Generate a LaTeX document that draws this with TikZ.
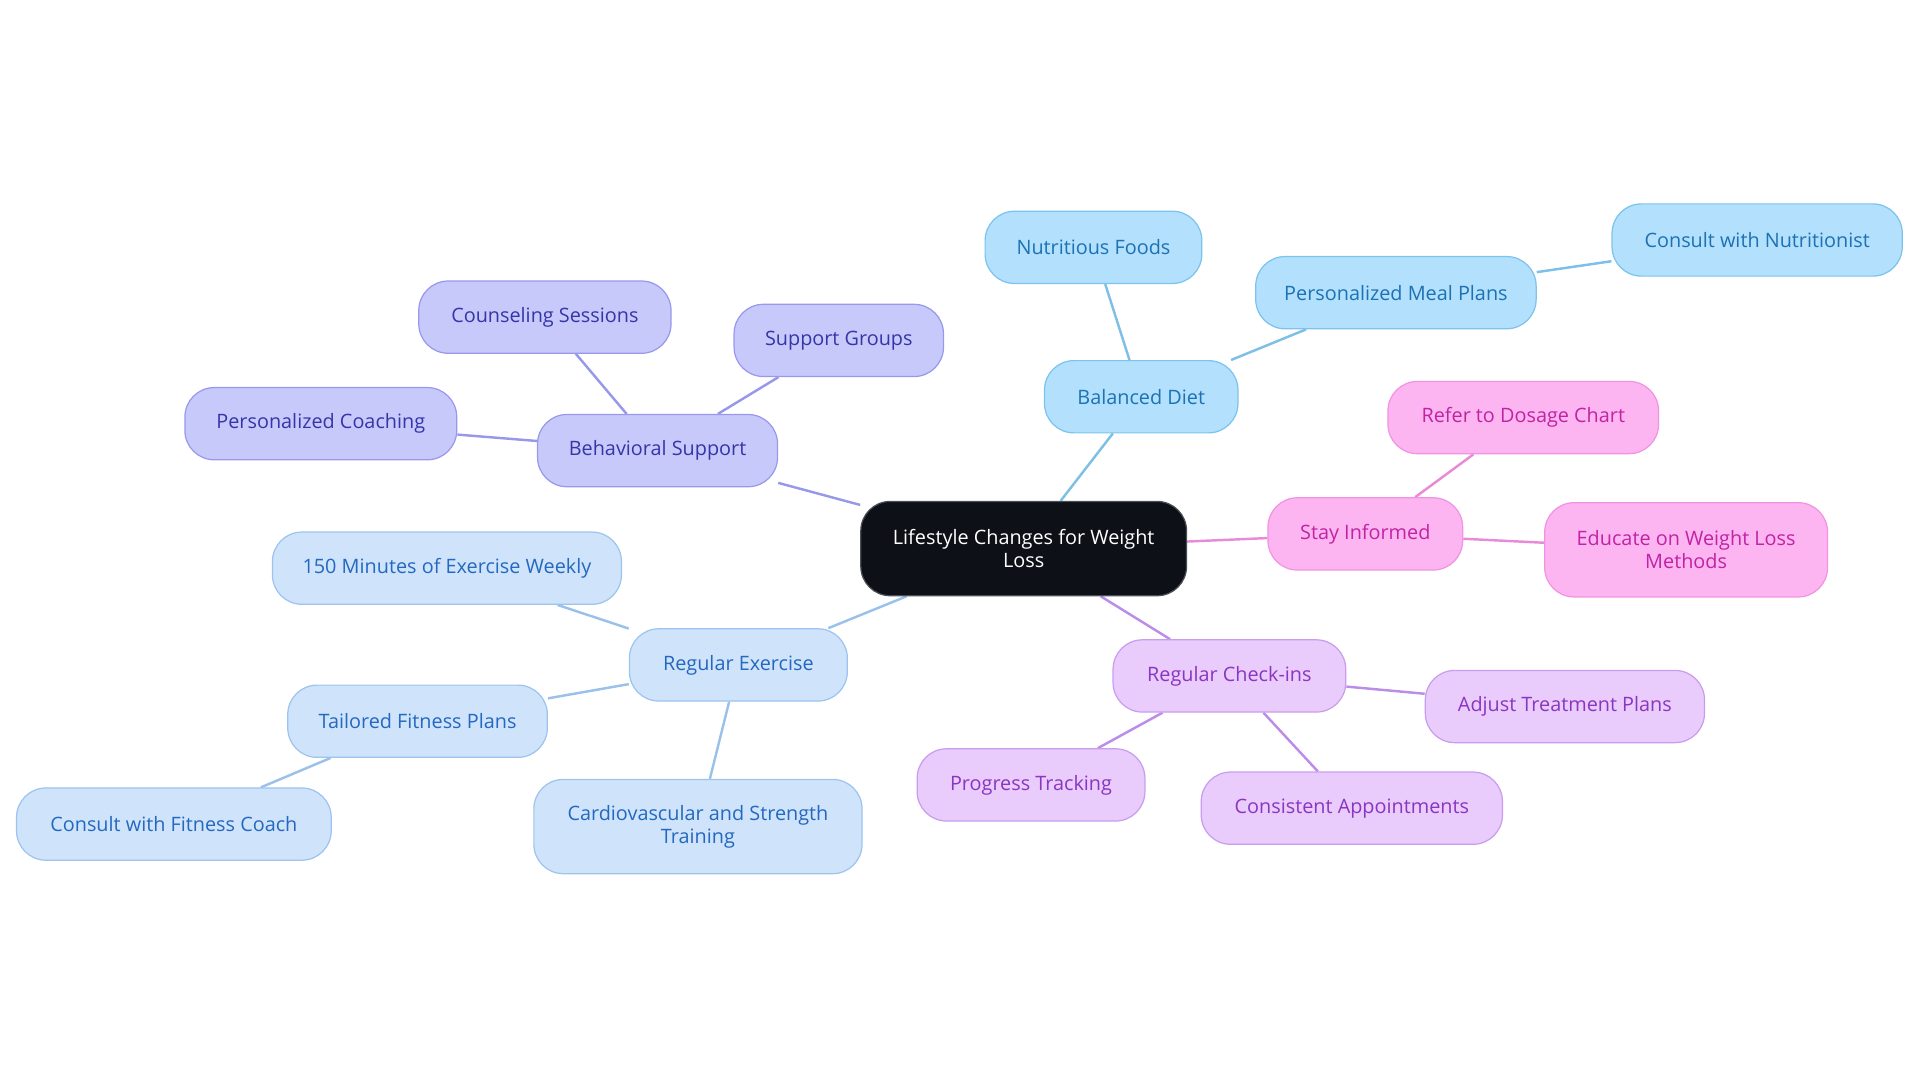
\documentclass[tikz,border=0pt]{standalone}
\usepackage{fontspec}
\setmainfont{Open Sans}
\usetikzlibrary{backgrounds}
\definecolor{dietF}{HTML}{B3E0FC}\definecolor{dietD}{HTML}{7CC3EE}\definecolor{dietT}{HTML}{1C72B4}\definecolor{dietE}{HTML}{7DBFE6}
\definecolor{pinkF}{HTML}{FDB5F1}\definecolor{pinkD}{HTML}{F093E2}\definecolor{pinkT}{HTML}{C023A3}\definecolor{pinkE}{HTML}{E98AD6}
\definecolor{lavF}{HTML}{E9CBFC}\definecolor{lavD}{HTML}{C99DEE}\definecolor{lavT}{HTML}{8A36C0}\definecolor{lavE}{HTML}{BB8CE8}
\definecolor{exF}{HTML}{CFE4FB}\definecolor{exD}{HTML}{9CC4EE}\definecolor{exT}{HTML}{2468C0}\definecolor{exE}{HTML}{9AC1EA}
\definecolor{behF}{HTML}{C8C9FB}\definecolor{behD}{HTML}{9898EC}\definecolor{behT}{HTML}{3535A8}\definecolor{behE}{HTML}{9898EA}
\definecolor{ctrF}{HTML}{0D1117}\definecolor{ctrD}{HTML}{4A4F55}
\tikzset{
  box/.style={rounded corners=24pt, line width=1pt, minimum height=59pt, inner sep=0pt, align=center, font=\fontsize{16.2}{18.5}\selectfont},
  diet/.style={box, fill=dietF, draw=dietD, text=dietT},
  pink/.style={box, fill=pinkF, draw=pinkD, text=pinkT},
  lav/.style={box, fill=lavF, draw=lavD, text=lavT},
  ex/.style={box, fill=exF, draw=exD, text=exT},
  beh/.style={box, fill=behF, draw=behD, text=behT},
  ctr/.style={box, fill=ctrF, draw=ctrD, text=white},
  link/.style={line width=2pt}
}
\begin{document}
\begin{tikzpicture}[x=1pt,y=-1pt]
\useasboundingbox (0,0) rectangle (1568,884);
\node[ctr, minimum width=266pt, minimum height=77pt] (c) at (836,448) {Lifestyle Changes for Weight\\Loss};
% diet
\node[diet, minimum width=158pt] (bd) at (932,324) {Balanced Diet};
\node[diet, minimum width=177pt] (nf) at (893,202) {Nutritious Foods};
\node[diet, minimum width=229pt] (pm) at (1140,239) {Personalized Meal Plans};
\node[diet, minimum width=237pt] (cn) at (1435,196) {Consult with Nutritionist};
% pink
\node[pink, minimum width=159pt] (si) at (1115,436) {Stay Informed};
\node[pink, minimum width=221pt] (rd) at (1244,341) {Refer to Dosage Chart};
\node[pink, minimum width=231pt, minimum height=77pt] (ed) at (1377,449) {Educate on Weight Loss\\Methods};
% lavender
\node[lav, minimum width=190pt] (rc) at (1004,552) {Regular Check-ins};
\node[lav, minimum width=228pt] (at) at (1278,577) {Adjust Treatment Plans};
\node[lav, minimum width=186pt] (pt) at (842,641) {Progress Tracking};
\node[lav, minimum width=246pt] (ca) at (1104,660) {Consistent Appointments};
% exercise
\node[ex, minimum width=178pt] (re) at (603,543) {Regular Exercise};
\node[ex, minimum width=285pt] (mw) at (365,464) {150 Minutes of Exercise Weekly};
\node[ex, minimum width=212pt] (tf) at (341,589) {Tailored Fitness Plans};
\node[ex, minimum width=257pt] (fc) at (142,673) {Consult with Fitness Coach};
\node[ex, minimum width=268pt, minimum height=77pt] (cs) at (570,675) {Cardiovascular and Strength\\Training};
% behavioral
\node[beh, minimum width=196pt] (bs) at (537,368) {Behavioral Support};
\node[beh, minimum width=206pt] (cl) at (445,259) {Counseling Sessions};
\node[beh, minimum width=171pt] (sg) at (685,278) {Support Groups};
\node[beh, minimum width=222pt] (pc) at (262,346) {Personalized Coaching};
\begin{scope}[on background layer]
\draw[link, dietE] (c) -- (bd);
\draw[link, dietE] (bd) -- (nf);
\draw[link, dietE] (bd) -- (pm);
\draw[link, dietE] (pm) -- (cn);
\draw[link, pinkE] (c) -- (si);
\draw[link, pinkE] (si) -- (rd);
\draw[link, pinkE] (si) -- (ed);
\draw[link, lavE] (c) -- (rc);
\draw[link, lavE] (rc) -- (at);
\draw[link, lavE] (rc) -- (pt);
\draw[link, lavE] (rc) -- (ca);
\draw[link, exE] (c) -- (re);
\draw[link, exE] (re) -- (mw);
\draw[link, exE] (re) -- (tf);
\draw[link, exE] (tf) -- (fc);
\draw[link, exE] (re) -- (cs);
\draw[link, behE] (c) -- (bs);
\draw[link, behE] (bs) -- (cl);
\draw[link, behE] (bs) -- (sg);
\draw[link, behE] (bs) -- (pc);
\end{scope}
\end{tikzpicture}
\end{document}
